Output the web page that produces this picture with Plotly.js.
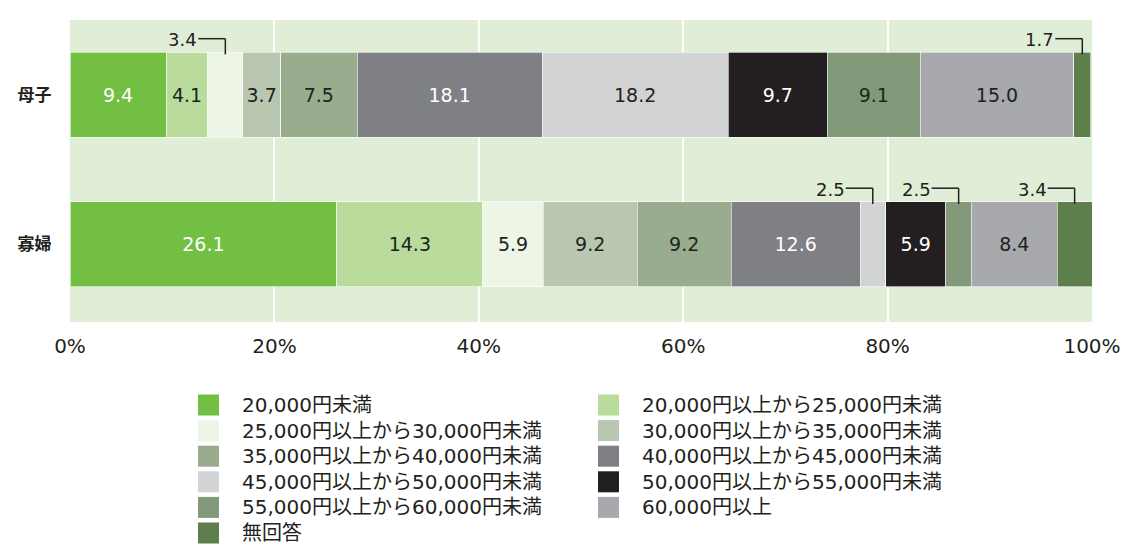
<!DOCTYPE html>
<html>
<head>
<meta charset="utf-8">
<script src="https://cdn.plot.ly/plotly-3.0.1.min.js"></script>
<style>html,body{margin:0;padding:0;background:#fff;}#chart{width:1123px;height:547px;}</style>
</head>
<body>
<div id="chart"></div>
<script>
// ---- data ----
const categories = ['母子', '寡婦'];
const seriesNames = [
  '20,000円未満',
  '20,000円以上から25,000円未満',
  '25,000円以上から30,000円未満',
  '30,000円以上から35,000円未満',
  '35,000円以上から40,000円未満',
  '40,000円以上から45,000円未満',
  '45,000円以上から50,000円未満',
  '50,000円以上から55,000円未満',
  '55,000円以上から60,000円未満',
  '60,000円以上',
  '無回答'
];
const boshiValues = [9.4, 4.1, 3.4, 3.7, 7.5, 18.1, 18.2, 9.7, 9.1, 15.0, 1.7];
const kafuValues  = [26.1, 14.3, 5.9, 9.2, 9.2, 12.6, 2.5, 5.9, 2.5, 8.4, 3.4];
const tickValues = [0, 20, 40, 60, 80, 100];
const tickLabels = ['0%', '20%', '40%', '60%', '80%', '100%'];

// ---- style ----
const colors = ['#72bf44', '#b9dc9c', '#edf5e6', '#b9c6b0', '#99ad8e', '#7f8084',
                '#d1d3d4', '#231f20', '#82997a', '#a7a9ac', '#5c7f4b'];
const whiteText = [true, false, false, false, false, true, false, true, false, false, false];
const dark = '#231f20';
const numFont = 'DejaVu Sans, Noto Sans CJK JP, sans-serif';
const jpFont = 'Noto Sans CJK JP, sans-serif';
const calloutLimit = 3.5;

const rows = [boshiValues, kafuValues];
const fmt = v => v.toFixed(1);

const traces = seriesNames.map((name, s) => ({
  type: 'bar',
  orientation: 'h',
  name: name,
  y: categories,
  x: rows.map(r => r[s]),
  text: rows.map(r => r[s] < calloutLimit ? '' : fmt(r[s])),
  textposition: 'inside',
  insidetextanchor: 'middle',
  constraintext: 'none',
  textangle: 0,
  textfont: {family: numFont, size: 19, color: whiteText[s] ? '#ffffff' : dark},
  marker: {color: colors[s], line: {color: '#ffffff', width: 0.6}},
  width: 0.57,
  hoverinfo: 'name+x',
  showlegend: false
}));

// ---- callouts for small segments ----
const shapes = [];
const annotations = [];
const lineY = 0.375;
rows.forEach((r, i) => {
  let cum = 0;
  r.forEach((v, s) => {
    const c = cum + v / 2;
    cum += v;
    if (v < calloutLimit) {
      shapes.push({type: 'line', xref: 'x', yref: 'y', xsizemode: 'pixel', xanchor: c,
        x0: -27, x1: 0, y0: i - lineY, y1: i - lineY, line: {color: dark, width: 1.5}});
      shapes.push({type: 'line', xref: 'x', yref: 'y', x0: c, x1: c,
        y0: i - lineY, y1: i - 0.27, line: {color: dark, width: 1.5}});
      annotations.push({x: c, y: i - lineY, xref: 'x', yref: 'y', text: fmt(v),
        showarrow: false, xanchor: 'right', yanchor: 'middle', xshift: -26, yshift: -1,
        font: {family: numFont, size: 18, color: dark}});
    }
  });
});

// ---- custom legend (two columns) ----
const L = 70, PW = 1022, T = 20, PH = 302;
const px2x = p => (p - L) / PW;
const py2y = p => (T + PH - p) / PH;
seriesNames.forEach((name, k) => {
  const col = k % 2, row = Math.floor(k / 2);
  const sx = 198 + col * 400, tx = 240 + col * 400, cy = 405 + row * 25.6;
  shapes.push({type: 'rect', xref: 'paper', yref: 'paper',
    x0: px2x(sx), x1: px2x(sx + 21), y0: py2y(cy - 10.5), y1: py2y(cy + 10.5),
    fillcolor: colors[k], line: {width: 0}});
  annotations.push({xref: 'paper', yref: 'paper', x: px2x(tx), y: py2y(cy),
    text: name, showarrow: false, xanchor: 'left', yanchor: 'middle',
    font: {family: numFont, size: 20, color: dark}});
});

const layout = {
  width: 1123, height: 547,
  margin: {l: L, r: 1123 - L - PW, t: T, b: 547 - T - PH, pad: 0},
  paper_bgcolor: '#ffffff',
  plot_bgcolor: '#e1eed7',
  barmode: 'stack',
  showlegend: false,
  xaxis: {
    range: [0, 100], tickvals: tickValues, ticktext: tickLabels,
    showgrid: true, gridcolor: '#ffffff', gridwidth: 2, zeroline: false,
    showline: false, ticks: 'outside', ticklen: 6, tickcolor: 'rgba(0,0,0,0)',
    tickfont: {family: numFont, size: 20, color: dark}, fixedrange: true
  },
  yaxis: {
    type: 'category', categoryorder: 'array', categoryarray: categories,
    range: [1.52, -0.5], showgrid: false, zeroline: false, showline: false,
    ticks: 'outside', ticklen: 14, tickcolor: 'rgba(0,0,0,0)',
    tickfont: {family: jpFont, size: 17, color: dark, weight: 'bold'}, fixedrange: true
  },
  shapes: shapes,
  annotations: annotations
};

Plotly.newPlot('chart', traces, layout, {displayModeBar: false, staticPlot: true});
</script>
</body>
</html>
